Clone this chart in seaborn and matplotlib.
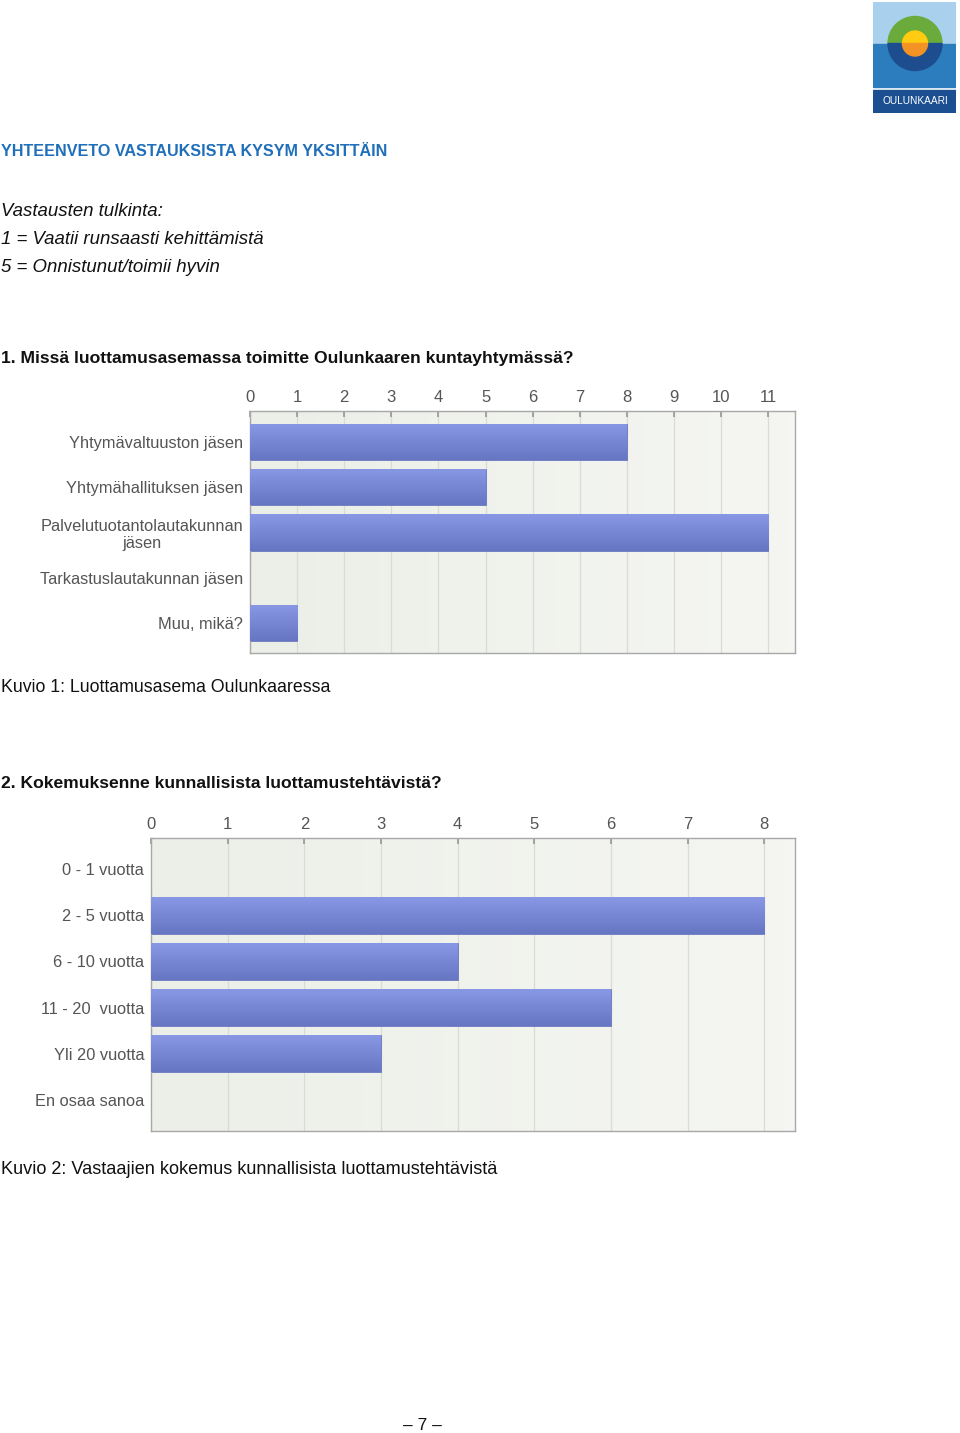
import numpy as np
import pandas as pd
import matplotlib
matplotlib.use("Agg")
import matplotlib.pyplot as plt
import matplotlib.patches as mpatches
import seaborn as sns

# ---- data ----
cats1 = ["Yhtymävaltuuston jäsen", "Yhtymähallituksen jäsen",
         "Palvelutuotantolautakunnan\njäsen", "Tarkastuslautakunnan jäsen", "Muu, mikä?"]
vals1 = [8, 5, 11, 0, 1]
ticks1 = list(range(0, 12))

cats2 = ["0 - 1 vuotta", "2 - 5 vuotta", "6 - 10 vuotta", "11 - 20  vuotta",
         "Yli 20 vuotta", "En osaa sanoa"]
vals2 = [0, 8, 4, 6, 3, 0]
ticks2 = list(range(0, 9))

sns.set_theme(style="white")
plt.rcParams["font.family"] = ["Liberation Sans", "DejaVu Sans"]

W, H = 960, 1433
fig = plt.figure(figsize=(W / 100, H / 100), dpi=100)
fig.patch.set_facecolor("white")


def fy(py):
    return 1 - py / H


def fx(px):
    return px / W


# ---- page texts ----
fig.text(fx(1), fy(152), "YHTEENVETO VASTAUKSISTA KYSYM YKSITTÄIN", color="#1f6fba",
         fontsize=11.6, fontweight="bold", va="center", ha="left")
fig.text(fx(1), fy(211), "Vastausten tulkinta:", fontsize=13.4, style="italic", va="center", color="#111")
fig.text(fx(1), fy(239), "1 = Vaatii runsaasti kehittämistä", fontsize=13.4, style="italic", va="center", color="#111")
fig.text(fx(1), fy(268), "5 = Onnistunut/toimii hyvin", fontsize=13.4, style="italic", va="center", color="#111")
fig.text(fx(1), fy(358), "1. Missä luottamusasemassa toimitte Oulunkaaren kuntayhtymässä?",
         fontsize=12.6, fontweight="bold", va="center", color="#111")
fig.text(fx(1), fy(687), "Kuvio 1: Luottamusasema Oulunkaaressa", fontsize=12.8, va="center", color="#111")
fig.text(fx(1), fy(784), "2. Kokemuksenne kunnallisista luottamustehtävistä?",
         fontsize=12.6, fontweight="bold", va="center", color="#111")
fig.text(fx(1), fy(1169), "Kuvio 2: Vastaajien kokemus kunnallisista luottamustehtävistä", fontsize=13.1,
         va="center", color="#111")
fig.text(fx(422), fy(1425), "– 7 –", fontsize=12.5, va="center", ha="center", color="#111")

# ---- logo ----
lx0, ly0, lw, lh = 873, 2, 83, 111
lax = fig.add_axes([fx(lx0), fy(ly0 + lh), lw / W, lh / H])
lax.set_xlim(0, lw)
lax.set_ylim(lh, 0)
lax.axis("off")
cx, cy = 42, 41.5
lax.add_patch(mpatches.Rectangle((0, 0), lw, cy, color="#a9d1ee"))
lax.add_patch(mpatches.Rectangle((0, cy), lw, 85 - cy, color="#2b7dbd"))
lax.add_patch(mpatches.Rectangle((0, 88), lw, 23, color="#1b4f92"))
# y axis inverted: angles 180-360 appear on top
lax.add_patch(mpatches.Wedge((cx, cy), 27, 180, 360, color="#6aab3b"))
lax.add_patch(mpatches.Wedge((cx, cy), 27, 0, 180, color="#1d4d8e"))
lax.add_patch(mpatches.Wedge((cx, cy), 12.5, 180, 360, color="#ffcc11"))
lax.add_patch(mpatches.Wedge((cx, cy), 12.5, 0, 180, color="#f39325"))
lax.text(cx, 99.5, "OULUNKAARI", color="white", fontsize=7.3, ha="center", va="center")

grad = np.linspace(0, 1, 64).reshape(-1, 1)
bar_cmap = matplotlib.colors.LinearSegmentedColormap.from_list("b", ["#8898e4", "#6676c3"])
bg_cmap = matplotlib.colors.LinearSegmentedColormap.from_list("g", ["#ecefe8", "#f5f6f2"])


def make_chart(rect, cats, vals, ticks, xmax, ylim):
    ax = fig.add_axes(rect)
    df = pd.DataFrame({"cat": cats, "val": vals})
    sns.barplot(data=df, x="val", y="cat", orient="h", color="#7787d4", width=0.8,
                ax=ax, saturation=1)
    ax.set_xlim(0, xmax)
    ax.imshow(np.linspace(0, 1, 64).reshape(1, -1), cmap=bg_cmap, aspect="auto",
              extent=[0, 1, 0, 1], transform=ax.transAxes, zorder=-5)
    for p in ax.patches:
        x0, y0 = p.get_x(), p.get_y()
        w, h = p.get_width(), p.get_height()
        if w <= 0:
            continue
        im = ax.imshow(grad, cmap=bar_cmap, aspect="auto",
                       extent=[x0, x0 + w, y0 + h, y0], zorder=3)
        im.set_clip_path(p)
        p.set_edgecolor("#6a79c0")
        p.set_linewidth(0.6)
    ax.set_ylim(ylim)
    ax.set_xlim(0, xmax)
    ax.xaxis.tick_top()
    ax.set_xticks(ticks)
    ax.set_xticklabels([str(t) for t in ticks])
    ax.tick_params(axis="x", which="both", top=True, bottom=False, direction="in", length=4,
                   color="#999999", labelsize=12, labelcolor="#555555", pad=4)
    ax.tick_params(axis="y", left=False, length=0, labelsize=11.8, labelcolor="#555555", pad=5)
    ax.grid(axis="x", color="#d9dbd4", linewidth=0.9)
    ax.grid(axis="y", visible=False)
    ax.set_axisbelow(True)
    ax.set_xlabel("")
    ax.set_ylabel("")
    for s in ax.spines.values():
        s.set_visible(True)
        s.set_color("#a8a8a8")
        s.set_linewidth(1.0)
    for lab in ax.get_yticklabels():
        lab.set_multialignment("center")
    return ax


make_chart([fx(250), fy(653), 545 / W, 242 / H], cats1, vals1, ticks1, 11.57, (4.66, -0.68))
make_chart([fx(151), fy(1131), 644 / W, 293 / H], cats2, vals2, ticks2, 8.4, (5.67, -0.67))

fig.savefig("out.png", dpi=100, facecolor="white")
